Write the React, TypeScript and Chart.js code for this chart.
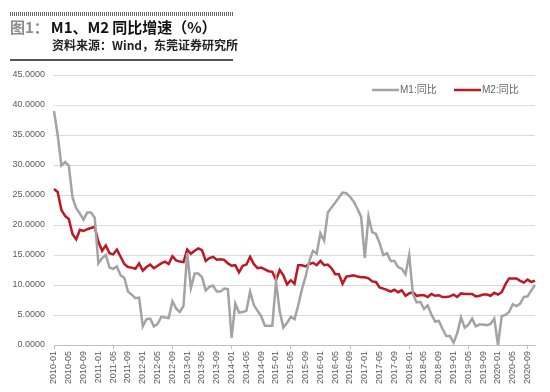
import React, { useEffect, useRef } from "react";
import { Chart, registerables } from "chart.js";

Chart.register(...registerables);

const years = [2010, 2011, 2012, 2013, 2014, 2015, 2016, 2017, 2018, 2019, 2020];
const lastMonth2020 = 11;

const categories: string[] = [];
for (const y of years) {
  const maxM = y === 2020 ? lastMonth2020 : 12;
  for (let m = 1; m <= maxM; m++) categories.push(`${y}-${m < 10 ? "0" + m : m}`);
}

// M1 YoY (%)
const m1: number[] = [
  39.0, 35.0, 29.9, 30.5, 29.9, 24.6, 22.8, 21.9, 20.9, 22.1, 22.1, 21.2, // 2010
  13.6, 14.5, 15.0, 12.9, 12.7, 13.1, 11.6, 11.2, 8.9, 8.4, 7.8, 7.9, // 2011
  3.1, 4.3, 4.4, 3.1, 3.5, 4.7, 4.6, 4.5, 7.3, 6.1, 5.5, 6.5, // 2012
  15.3, 9.5, 11.9, 11.9, 11.3, 9.1, 9.7, 9.9, 8.9, 8.9, 9.4, 9.3, // 2013
  1.2, 6.9, 5.4, 5.5, 5.7, 8.9, 6.7, 5.7, 4.8, 3.2, 3.2, 3.2, // 2014
  10.6, 5.6, 2.9, 3.7, 4.7, 4.3, 6.6, 9.3, 11.4, 14.0, 15.7, 15.2, // 2015
  18.6, 17.4, 22.1, 22.9, 23.7, 24.6, 25.4, 25.3, 24.7, 23.9, 22.7, 21.4, // 2016
  14.5, 21.4, 18.8, 18.5, 17.0, 15.0, 15.3, 14.0, 14.0, 13.0, 12.7, 11.8, // 2017
  15.0, 8.5, 7.1, 7.2, 6.0, 6.6, 5.1, 3.9, 4.0, 2.7, 1.5, 1.5, // 2018
  0.4, 2.0, 4.6, 2.9, 3.4, 4.4, 3.1, 3.4, 3.4, 3.3, 3.5, 4.4, // 2019
  0.0, 4.8, 5.0, 5.5, 6.8, 6.5, 6.9, 8.0, 8.1, 9.1, 10.0, // 2020
];

// M2 YoY (%)
const m2: number[] = [
  26.0, 25.5, 22.5, 21.5, 21.0, 18.5, 17.6, 19.2, 19.0, 19.3, 19.5, 19.7, // 2010
  17.2, 15.7, 16.6, 15.3, 15.1, 15.9, 14.7, 13.5, 13.0, 12.9, 12.7, 13.6, // 2011
  12.4, 13.0, 13.4, 12.8, 13.2, 13.6, 13.9, 13.5, 14.8, 14.1, 13.9, 13.8, // 2012
  15.9, 15.2, 15.7, 16.1, 15.8, 14.0, 14.5, 14.7, 14.2, 14.3, 14.2, 13.6, // 2013
  13.2, 13.3, 12.1, 13.2, 13.4, 14.7, 13.5, 12.8, 12.9, 12.6, 12.3, 12.2, // 2014
  10.8, 12.5, 11.6, 10.1, 10.8, 10.2, 13.3, 13.3, 13.1, 13.5, 13.7, 13.3, // 2015
  14.0, 13.3, 13.4, 12.8, 11.8, 11.8, 10.2, 11.4, 11.5, 11.6, 11.4, 11.3, // 2016
  11.3, 11.1, 10.6, 10.5, 9.6, 9.4, 9.2, 8.9, 9.2, 8.8, 9.1, 8.2, // 2017
  8.6, 8.8, 8.2, 8.3, 8.3, 8.0, 8.5, 8.2, 8.3, 8.0, 8.0, 8.1, // 2018
  8.4, 8.0, 8.6, 8.5, 8.5, 8.5, 8.1, 8.2, 8.4, 8.4, 8.2, 8.7, // 2019
  8.4, 8.8, 10.1, 11.1, 11.1, 11.1, 10.7, 10.4, 10.9, 10.5, 10.7, // 2020
];

const yTicks = [0, 5, 10, 15, 20, 25, 30, 35, 40, 45];
const seriesNames = ["M1:同比", "M2:同比"];
const seriesColors = ["#A3A3A3", "#BE1622"];

const legendPlugin = {
  id: "customLegend",
  afterDraw(chart: any) {
    const ctx = chart.ctx;
    ctx.save();
    ctx.font = "10px 'Liberation Sans', 'Noto Sans CJK SC', sans-serif";
    ctx.textBaseline = "middle";
    const y = 90;
    const starts = [372, 454];
    seriesNames.forEach((name, i) => {
      const x = starts[i];
      ctx.strokeStyle = seriesColors[i];
      ctx.lineWidth = 2.5;
      ctx.beginPath();
      ctx.moveTo(x, y);
      ctx.lineTo(x + 27, y);
      ctx.stroke();
      ctx.fillStyle = "#666666";
      ctx.fillText(name, x + 28, y);
    });
    ctx.restore();
  },
};

export default function App() {
  const ref = useRef<HTMLCanvasElement | null>(null);

  useEffect(() => {
    if (!ref.current) return;
    const chart = new Chart(ref.current, {
      type: "line",
      data: {
        labels: categories,
        datasets: [
          {
            label: seriesNames[0],
            data: m1,
            borderColor: seriesColors[0],
            borderWidth: 2.5,
            pointRadius: 0,
            tension: 0,
          },
          {
            label: seriesNames[1],
            data: m2,
            borderColor: seriesColors[1],
            borderWidth: 2.5,
            pointRadius: 0,
            tension: 0,
          },
        ],
      },
      options: {
        responsive: false,
        animation: false,
        layout: { padding: { top: 75, right: 15, bottom: 0, left: 0 } },
        plugins: { legend: { display: false }, tooltip: { enabled: false } },
        scales: {
          x: {
            offset: false,
            border: { display: true, color: "#BFBFBF", width: 1 },
            grid: {
              drawOnChartArea: false,
              drawTicks: true,
              tickLength: 4,
              color: (c: any) => (c.index % 4 === 0 ? "#BFBFBF" : "rgba(0,0,0,0)"),
            },
            ticks: {
              autoSkip: false,
              maxRotation: 90,
              minRotation: 90,
              padding: 2,
              color: "#595959",
              font: { size: 9, family: "'Liberation Sans', sans-serif" },
              callback: (_v: any, i: number) => (i % 4 === 0 ? categories[i] : null),
            },
            afterFit: (s: any) => {
              s.height = 47;
            },
          },
          y: {
            min: 0,
            max: 45,
            border: { display: false },
            grid: { color: "#D9D9D9", lineWidth: 1, drawTicks: false },
            afterBuildTicks: (s: any) => {
              s.ticks = yTicks.map((v) => ({ value: v }));
            },
            ticks: {
              padding: 9,
              color: "#595959",
              font: { size: 9, family: "'Liberation Sans', sans-serif" },
              callback: (v: any) => Number(v).toFixed(4),
            },
            afterFit: (s: any) => {
              s.width = 54;
            },
          },
        },
      },
      plugins: [legendPlugin],
    });
    return () => chart.destroy();
  }, []);

  return (
    <div style={{ position: "absolute", left: 0, top: 0, width: 550, height: 392, background: "#fff" }}>
      <canvas ref={ref} width={550} height={392} style={{ position: "absolute", left: 0, top: 0 }} />
      <div
        style={{
          position: "absolute",
          left: 10,
          top: 12,
          width: 223,
          height: 4,
          background: "repeating-linear-gradient(90deg, #666 0px, #666 1px, transparent 1px, transparent 2px)",
        }}
      />
      <div
        style={{
          position: "absolute",
          left: 10,
          top: 17,
          whiteSpace: "nowrap",
          fontFamily: "'Noto Sans CJK SC', sans-serif",
          fontWeight: 700,
          fontSize: 15,
          lineHeight: "20px",
        }}
      >
        <span style={{ color: "#8C8C8C" }}>图1：</span>
        <span style={{ color: "#111", marginLeft: 2 }}>
          M1、M2<span style={{ marginLeft: 3 }}>同比增速（%）</span>
        </span>
      </div>
      <div
        style={{
          position: "absolute",
          left: 52,
          top: 36,
          whiteSpace: "nowrap",
          fontFamily: "'Noto Sans CJK SC', sans-serif",
          fontWeight: 700,
          fontSize: 12,
          lineHeight: "18px",
          color: "#222",
        }}
      >
        资料来源：Wind，东莞证券研究所
      </div>
      <div style={{ position: "absolute", left: 10, top: 59, width: 223, height: 1.5, background: "#555" }} />
    </div>
  );
}
